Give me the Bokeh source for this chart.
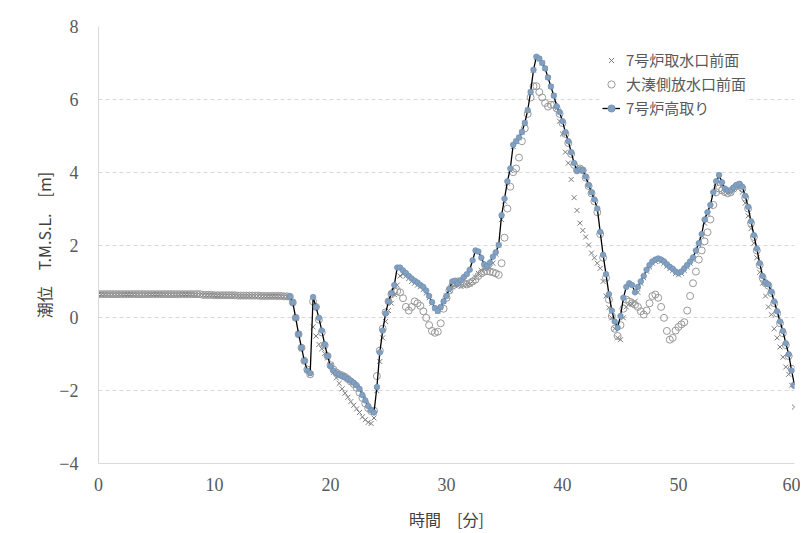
from bokeh.plotting import figure
from bokeh.models import Range1d, Legend, LegendItem, FixedTicker
from bokeh.embed import file_html
from bokeh.resources import INLINE

# time axis [min]
STEP = 0.25
N_ALL = 241
time_all = [round(i * STEP, 2) for i in range(N_ALL)]

# 7号炉取水口前面 (one row per minute: t.00, t.25, t.50, t.75)
intake_rows = [
    [0.64, 0.64, 0.64, 0.64], [0.64, 0.64, 0.64, 0.64], [0.64, 0.64, 0.64, 0.64], [0.64, 0.64, 0.64, 0.64],
    [0.64, 0.64, 0.64, 0.64], [0.64, 0.64, 0.64, 0.64], [0.64, 0.64, 0.64, 0.64], [0.64, 0.64, 0.64, 0.64],
    [0.64, 0.64, 0.63, 0.63], [0.62, 0.62, 0.62, 0.62], [0.61, 0.61, 0.61, 0.61], [0.61, 0.61, 0.61, 0.61],
    [0.60, 0.60, 0.60, 0.60], [0.60, 0.60, 0.60, 0.60], [0.59, 0.59, 0.59, 0.59], [0.59, 0.59, 0.59, 0.59],
    [0.58, 0.58, 0.58, 0.42],
    [0.0, -0.45, -0.85, -1.2],
    [-1.45, -1.55, -0.25, -0.5],
    [-0.73, -0.85, -0.98, -1.1],
    [-1.3, -1.5, -1.65, -1.8],
    [-1.95, -2.07, -2.18, -2.3],
    [-2.4, -2.5, -2.6, -2.72],
    [-2.8, -2.87, -2.9, -2.75],
    [-2.0, -1.2, -0.55, -0.1],
    [0.2, 0.4, 0.64, 0.9],
    [1.15, 1.2, 1.15, 1.08],
    [1.0, 0.95, 0.9, 0.85],
    [0.78, 0.68, 0.55, 0.4],
    [0.25, 0.18, 0.28, 0.45],
    [0.6, 0.75, 0.85, 0.9],
    [0.88, 0.86, 0.88, 0.9],
    [0.93, 1.0, 1.12, 1.22],
    [1.3, 1.35, 1.35, 1.38],
    [1.5, 1.75, 2.0, 2.7],
    [3.2, 3.7, 4.05, 4.7],
    [4.85, 4.95, 5.1, 5.35],
    [5.7, 6.2, 6.8, 7.15],
    [7.1, 7.0, 6.85, 6.6],
    [6.35, 6.1, 5.75, 5.4],
    [5.05, 4.55, 4.25, 3.8],
    [3.3, 2.95, 2.6, 2.4],
    [2.22, 2.0, 1.78, 1.65],
    [1.5, 1.36, 1.0, 0.6],
    [0.28, 0.0, -0.3, -0.55],
    [-0.6, 0.0, 0.3, 0.38],
    [0.38, 0.45, 0.7, 0.95],
    [1.1, 1.28, 1.4, 1.5],
    [1.55, 1.58, 1.55, 1.5],
    [1.42, 1.35, 1.3, 1.22],
    [1.18, 1.22, 1.3, 1.4],
    [1.5, 1.6, 1.8, 2.0],
    [2.25, 2.6, 2.85, 3.05],
    [3.4, 3.7, 3.85, 3.65],
    [3.5, 3.45, 3.45, 3.52],
    [3.6, 3.6, 3.45, 3.15],
    [2.8, 2.45, 2.05, 1.65],
    [1.25, 0.95, 0.6, 0.3],
    [0.09, -0.3, -0.55, -0.8],
    [-1.08, -1.35, -1.55, -1.85],
    [-2.45],
]

# 大湊側放水口前面
outlet_rows = [
    [0.65, 0.65, 0.65, 0.65], [0.65, 0.65, 0.65, 0.65], [0.65, 0.65, 0.65, 0.65], [0.65, 0.65, 0.65, 0.65],
    [0.65, 0.65, 0.65, 0.65], [0.65, 0.65, 0.65, 0.65], [0.65, 0.65, 0.65, 0.65], [0.65, 0.65, 0.65, 0.65],
    [0.65, 0.65, 0.65, 0.65], [0.63, 0.63, 0.63, 0.63], [0.62, 0.62, 0.62, 0.62], [0.62, 0.62, 0.62, 0.62],
    [0.61, 0.61, 0.61, 0.61], [0.61, 0.61, 0.61, 0.61], [0.60, 0.60, 0.60, 0.60], [0.60, 0.60, 0.60, 0.60],
    [0.59, 0.59, 0.58, 0.42],
    [0.0, -0.45, -0.82, -1.18],
    [-1.42, -1.55, 0.45, 0.3],
    [-0.05, -0.4, -0.75, -1.05],
    [-1.3, -1.42, -1.5, -1.55],
    [-1.58, -1.62, -1.68, -1.75],
    [-1.82, -1.92, -2.05, -2.2],
    [-2.35, -2.48, -2.56, -2.55],
    [-1.6, -0.9, -0.3, 0.15],
    [0.45, 0.65, 0.73, 0.73],
    [0.7, 0.54, 0.3, 0.2],
    [0.3, 0.45, 0.4, 0.33],
    [0.18, 0.0, -0.2, -0.36],
    [-0.41, -0.38, -0.15, 0.25],
    [0.55, 0.75, 0.88, 0.95],
    [1.0, 1.0, 0.95, 0.92],
    [0.95, 1.0, 1.05, 1.15],
    [1.22, 1.27, 1.28, 1.27],
    [1.25, 1.22, 1.18, 1.5],
    [2.2, 3.0, 3.6, 4.0],
    [4.1, 4.4, 4.85, 5.2],
    [5.6, 6.05, 6.36, 6.36],
    [6.2, 6.05, 5.9, 5.8],
    [5.85, 5.85, 5.75, 5.6],
    [5.35, 5.05, 4.8, 4.5],
    [4.2, 4.05, 4.1, 4.05],
    [3.85, 3.62, 3.42, 3.2],
    [2.9, 2.3, 1.65, 1.1],
    [0.5, 0.05, -0.3, -0.5],
    [-0.2, 0.25, 0.5, 0.45],
    [0.4, 0.36, 0.3, 0.18],
    [0.09, 0.2, 0.4, 0.6],
    [0.64, 0.55, 0.3, 0.0],
    [-0.36, -0.6, -0.55, -0.35],
    [-0.25, -0.18, -0.12, 0.2],
    [0.6, 0.95, 1.27, 1.6],
    [1.85, 2.1, 2.35, 2.7],
    [3.1, 3.45, 3.55, 3.5],
    [3.45, 3.42, 3.45, 3.55],
    [3.62, 3.65, 3.55, 3.3],
    [3.0, 2.6, 2.22, 1.85],
    [1.45, 1.1, 0.95, 0.88],
    [0.68, 0.4, 0.12, -0.15],
    [-0.42, -0.75, -1.05, -1.4],
    [-1.85],
]

# 7号炉高取り (starts at 16.5 min)
H_START = 16.5
high_rows = [
    [0.58, 0.42],
    [0.0, -0.45, -0.82, -1.18],
    [-1.45, -1.52, 0.57, 0.3],
    [0.0, -0.35, -0.73, -1.05],
    [-1.33, -1.45, -1.52, -1.56],
    [-1.6, -1.63, -1.68, -1.73],
    [-1.78, -1.85, -1.95, -2.12],
    [-2.27, -2.42, -2.54, -2.6],
    [-1.9, -0.95, -0.35, 0.12],
    [0.45, 0.68, 0.9, 1.38],
    [1.38, 1.3, 1.23, 1.15],
    [1.08, 1.02, 0.97, 0.9],
    [0.85, 0.75, 0.6, 0.43],
    [0.27, 0.19, 0.3, 0.45],
    [0.6, 0.8, 1.0, 1.02],
    [0.95, 1.03, 1.12, 1.2],
    [1.32, 1.58, 1.85, 1.82],
    [1.65, 1.47, 1.42, 1.52],
    [1.68, 1.8, 2.0, 2.82],
    [3.27, 3.75, 4.1, 4.75],
    [4.85, 4.95, 5.1, 5.35],
    [5.7, 6.2, 6.81, 7.17],
    [7.12, 7.0, 6.85, 6.6],
    [6.35, 6.1, 5.81, 5.65],
    [5.4, 5.1, 4.85, 4.55],
    [4.25, 4.04, 4.08, 4.05],
    [3.88, 3.65, 3.45, 3.25],
    [3.0, 2.36, 1.73, 1.2],
    [0.65, 0.2, -0.1, -0.27],
    [0.05, 0.55, 0.85, 0.95],
    [0.9, 0.7, 0.85, 1.0],
    [1.15, 1.32, 1.45, 1.55],
    [1.6, 1.63, 1.6, 1.55],
    [1.47, 1.4, 1.35, 1.27],
    [1.23, 1.27, 1.36, 1.45],
    [1.55, 1.66, 1.85, 2.05],
    [2.3, 2.7, 2.9, 3.1],
    [3.45, 3.75, 3.92, 3.72],
    [3.55, 3.5, 3.5, 3.58],
    [3.65, 3.68, 3.6, 3.35],
    [3.05, 2.65, 2.27, 1.9],
    [1.5, 1.15, 0.97, 0.92],
    [0.72, 0.45, 0.18, -0.1],
    [-0.36, -0.7, -1.0, -1.45],
    [-1.85],
]

x_ticks = [0, 10, 20, 30, 40, 50, 60]
y_ticks = [-4, -2, 0, 2, 4, 6, 8]
y_tick_labels = {-4: "−4", -2: "−2"}
labels = ["7号炉取水口前面", "大湊側放水口前面", "7号炉高取り"]

intake = [v for r in intake_rows for v in r]
outlet = [v for r in outlet_rows for v in r]
high = [v for r in high_rows for v in r]
time_high = [round(H_START + i * STEP, 2) for i in range(len(high))]
time_in = time_all[:len(intake)]
time_out = time_all[:len(outlet)]

p = figure(width=800, height=533, output_backend="svg", toolbar_location=None,
           x_range=Range1d(0, 60), y_range=Range1d(-4, 8),
           min_border_left=98, min_border_right=6, min_border_top=26, min_border_bottom=67)
p.background_fill_color = "white"
p.border_fill_color = "white"
p.outline_line_color = None

r1 = p.scatter(time_in, intake, marker="x", size=7, line_color="#7a7a7a", line_width=1)
r2 = p.scatter(time_out, outlet, marker="circle", size=7, fill_color=None,
               line_color="#999999", line_width=1)
r3 = p.line(time_high, high, line_color="black", line_width=1.3)
r4 = p.scatter(time_high, high, marker="circle", size=5.5, fill_color="#82a0c2",
               line_color="#7090b2", line_width=0.8)

p.xaxis.ticker = FixedTicker(ticks=x_ticks)
p.yaxis.ticker = FixedTicker(ticks=y_ticks)
p.yaxis.major_label_overrides = y_tick_labels
for ax in (p.xaxis[0], p.yaxis[0]):
    ax.axis_line_color = "#d9d9d9"
    ax.major_tick_line_color = None
    ax.minor_tick_line_color = None
    ax.major_label_text_font = "'Liberation Serif', serif"
    ax.major_label_text_font_size = "18px"
    ax.major_label_text_color = "#595959"
    ax.axis_label_text_font = "Noto Sans CJK JP"
    ax.axis_label_text_font_size = "16px"
    ax.axis_label_text_font_style = "normal"
    ax.axis_label_text_color = "#404040"
p.xaxis.axis_label = "時間　[分]"
p.yaxis.axis_label = "潮位　T.M.S.L.　[m]"
p.xaxis.major_label_standoff = 8
p.xaxis.axis_label_standoff = 13
p.yaxis.major_label_standoff = 14
p.yaxis.axis_label_standoff = 0

p.xgrid.visible = False
p.ygrid.grid_line_color = "#d9d9d9"
p.ygrid.grid_line_dash = "4 3"

legend = Legend(items=[
    LegendItem(label=labels[0], renderers=[r1]),
    LegendItem(label=labels[1], renderers=[r2]),
    LegendItem(label=labels[2], renderers=[r3, r4]),
], location=(504, 345))
legend.label_text_font = "Noto Sans CJK JP"
legend.label_text_font_size = "15px"
legend.label_text_color = "#595959"
legend.background_fill_color = "white"
legend.background_fill_alpha = 1.0
legend.border_line_color = None
legend.padding = 4
legend.spacing = 3
legend.glyph_width = 18
legend.glyph_height = 20
legend.label_height = 20
legend.label_standoff = 6
legend.margin = 0
p.add_layout(legend)

open("out.html", "w").write(file_html(p, INLINE))
